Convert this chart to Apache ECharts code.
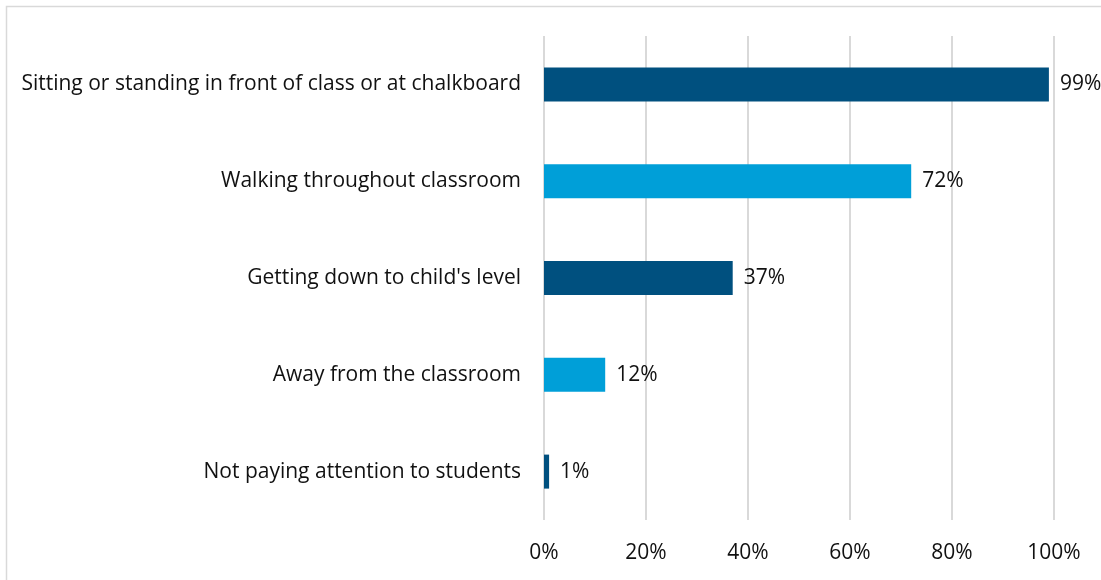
<!DOCTYPE html>
<html>
<head>
<meta charset="utf-8">
<script src="https://cdn.jsdelivr.net/npm/echarts@6/dist/echarts.min.js"></script>
<style>
  html, body { margin: 0; padding: 0; background: #fff; }
  #chart { width: 1101px; height: 580px; }
</style>
</head>
<body>
<div id="chart"></div>
<script>
// Where teachers were positioned during observation (share of classrooms)
const categories = [
  "Sitting or standing in front of class or at chalkboard",
  "Walking throughout classroom",
  "Getting down to child's level",
  "Away from the classroom",
  "Not paying attention to students"
];
const values = [99, 72, 37, 12, 1];
const barColors = ["#00507F", "#009FD8", "#00507F", "#009FD8", "#00507F"];
const tickValues = [0, 20, 40, 60, 80, 100];

const FONT = "Open Sans";
const FONT_SIZE = 21;
const TEXT_COLOR = "#111111";
const chart = echarts.init(document.getElementById("chart"), null, { renderer: "canvas" });

chart.setOption({
  animation: false,
  textStyle: { fontFamily: FONT },
  graphic: [{
    type: "rect",
    shape: { x: 6.5, y: 6.5, width: 1200, height: 700 },
    style: { fill: "none", stroke: "#D9D9D9", lineWidth: 1.5 },
    silent: true,
    z: -1
  }],
  grid: { left: 544, right: 47, top: 36, bottom: 60, containLabel: false },
  xAxis: {
    type: "value",
    min: tickValues[0],
    max: tickValues[tickValues.length - 1],
    interval: 20,
    axisLine: { show: false },
    axisTick: { show: false },
    splitLine: { lineStyle: { color: "#D9D9D9", width: 2 } },
    axisLabel: {
      formatter: v => v + "%",
      color: TEXT_COLOR,
      fontSize: FONT_SIZE,
      fontFamily: FONT,
      margin: 23
    }
  },
  yAxis: {
    type: "category",
    inverse: true,
    data: categories,
    axisLine: { show: false },
    axisTick: { show: false },
    axisLabel: {
      color: TEXT_COLOR,
      fontSize: FONT_SIZE,
      fontFamily: FONT,
      margin: 23,
      padding: [4, 0, 0, 0]
    }
  },
  series: [{
    type: "bar",
    barWidth: 34,
    data: values.map((v, i) => ({
      value: v,
      itemStyle: { color: barColors[i] }
    })),
    label: {
      show: true,
      position: "right",
      distance: 11,
      padding: [4, 0, 0, 0],
      formatter: p => p.value + "%",
      color: TEXT_COLOR,
      fontSize: FONT_SIZE,
      fontFamily: FONT
    }
  }]
});
</script>
</body>
</html>
